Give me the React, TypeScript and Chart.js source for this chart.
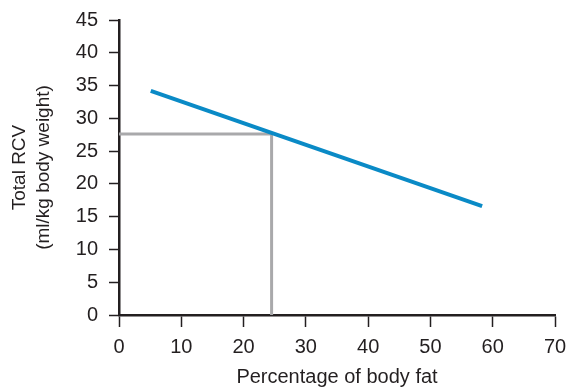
import React, { useEffect, useRef } from "react";
import { Chart, registerables } from "chart.js";

Chart.register(...registerables);

const rcvLineX = [5.1, 58.3];
const rcvLineY = [34.2, 16.6];
const refX = [0, 24.5, 24.5];
const refY = [27.6, 27.6, 0];
const xTicks = [0, 10, 20, 30, 40, 50, 60, 70];
const yTicks = [0, 5, 10, 15, 20, 25, 30, 35, 40, 45];
const xTitle = "Percentage of body fat";
const yTitle = ["Total RCV", "(ml/kg body weight)"];

const FONT = "'Liberation Sans', Arial, Helvetica, sans-serif";
const INK = "#231f20";

export default function App() {
  const ref = useRef<HTMLCanvasElement | null>(null);
  useEffect(() => {
    if (!ref.current) return;
    const chart = new Chart(ref.current, {
      type: "scatter",
      data: {
        datasets: [
          {
            data: rcvLineX.map((x, i) => ({ x, y: rcvLineY[i] })),
            showLine: true,
            borderColor: "#0a8ac6",
            borderWidth: 4,
            pointRadius: 0,
            borderCapStyle: "butt",
            order: 0,
          },
          {
            data: refX.map((x, i) => ({ x, y: refY[i] })),
            showLine: true,
            borderColor: "#a9a9ab",
            borderWidth: 3,
            pointRadius: 0,
            borderJoinStyle: "miter",
            order: 1,
          },
        ],
      },
      options: {
        animation: false,
        responsive: true,
        maintainAspectRatio: false,
        layout: { padding: { left: 0, right: 0, top: 0, bottom: 0 } },
        plugins: { legend: { display: false }, tooltip: { enabled: false } },
        scales: {
          x: {
            type: "linear",
            min: 0,
            max: 70,
            afterBuildTicks: (s: any) => {
              s.ticks = xTicks.map((v) => ({ value: v }));
            },
            afterFit: (s: any) => {
              s.height = 74;
              s.paddingRight = 13;
              s.paddingLeft = 0;
            },
            border: { display: true, color: INK, width: 2.5 },
            grid: {
              drawOnChartArea: false,
              drawTicks: true,
              tickLength: 12,
              tickColor: INK,
              tickWidth: 1.5,
            },
            ticks: {
              color: INK,
              padding: 8,
              maxRotation: 0,
              font: { family: FONT, size: 20 },
            },
            title: {
              display: true,
              text: xTitle,
              color: INK,
              font: { family: FONT, size: 20 },
              padding: { top: 0, bottom: 0 },
            },
          },
          y: {
            type: "linear",
            min: 0,
            max: 45,
            afterBuildTicks: (s: any) => {
              s.ticks = yTicks.map((v) => ({ value: v }));
            },
            afterFit: (s: any) => {
              s.width = 119;
              s.paddingTop = 20;
              s.paddingBottom = 0;
            },
            border: { display: true, color: INK, width: 2.5 },
            grid: {
              drawOnChartArea: false,
              drawTicks: true,
              tickLength: 10,
              tickColor: INK,
              tickWidth: 1.5,
            },
            ticks: {
              color: INK,
              padding: 11,
              font: { family: FONT, size: 20 },
            },
            title: {
              display: true,
              text: yTitle,
              color: INK,
              font: { family: FONT, size: 19, lineHeight: 1.3 },
              padding: { top: 7, bottom: 0 },
            },
          },
        },
      },
    } as any);
    return () => chart.destroy();
  }, []);
  return (
    <div style={{ position: "absolute", left: 0, top: 0, width: 568, height: 389, background: "#fff" }}>
      <canvas ref={ref} />
    </div>
  );
}
